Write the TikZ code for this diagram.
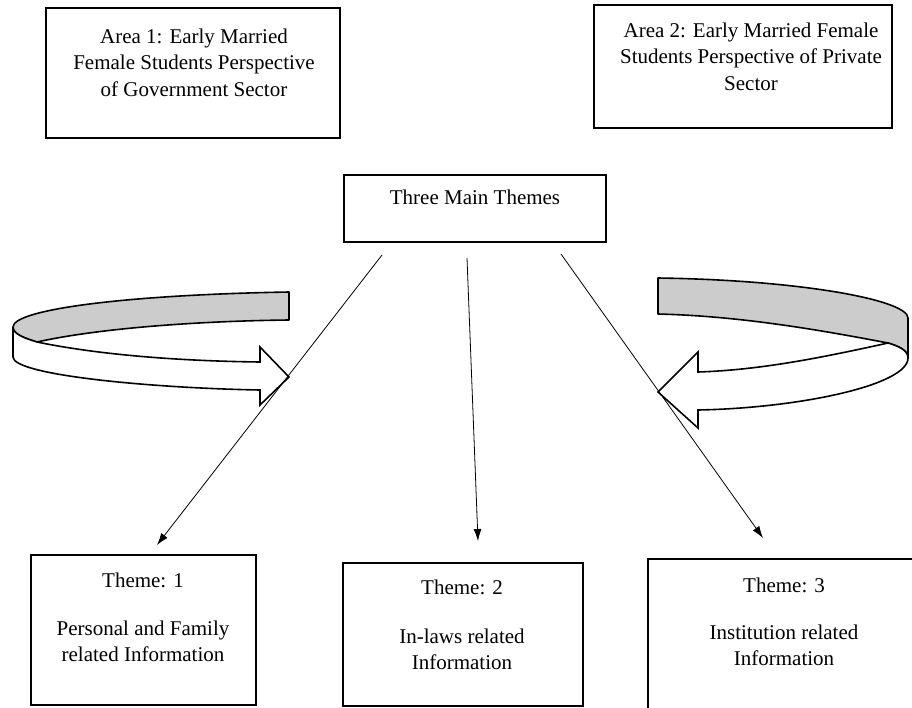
\documentclass[tikz,border=0pt]{standalone}
\usepackage{fontspec}
\setmainfont{Liberation Serif}
\usetikzlibrary{arrows.meta}
\tikzset{
  box/.style={draw=black, line width=1.8pt, inner sep=0pt, rectangle},
  txt/.style={inner sep=0pt, align=center, font=\fontsize{21}{26.5}\selectfont},
  conn/.style={line width=0.8pt, -{Latex[length=12pt,width=8pt]}},
  ribbonback/.style={fill=gray!40, draw=black, line width=1.6pt, line join=round},
  ribbonfront/.style={fill=white, draw=black, line width=1.6pt, line join=miter},
}
\begin{document}
\begin{tikzpicture}[x=1pt,y=-1pt]
\useasboundingbox (0,0) rectangle (912,707);
\clip (0,0) rectangle (912,707);

% boxes
\node[box, minimum width=294pt, minimum height=130pt] (area1) at (193,73) {};
\node[box, minimum width=298pt, minimum height=123pt] (area2) at (743,66.5) {};
\node[box, minimum width=262pt, minimum height=67pt] (main) at (475,208.5) {};
\node[box, minimum width=225pt, minimum height=150pt] (t1) at (143.5,630) {};
\node[box, minimum width=240pt, minimum height=143pt] (t2) at (463,634.5) {};
\node[box, minimum width=272pt, minimum height=161pt] (t3) at (784,639.5) {};

% texts
\node[txt] (a1txt) at (194,62.5) {Area 1: Early Married\\Female Students Perspective\\of Government Sector};
\node[txt] (a2txt) at (751,56.5) {Area 2: Early Married Female\\Students Perspective of Private\\Sector};
\node[txt] (maintxt) at (475,197) {Three Main Themes};
\node[txt] (t1a) at (143,580) {Theme: 1};
\node[txt] (t1b) at (143,641.5) {Personal and Family\\related Information};
\node[txt] (t2a) at (462,587) {Theme: 2};
\node[txt] (t2b) at (462,649.5) {In-laws related\\Information};
\node[txt] (t3a) at (784,585) {Theme: 3};
\node[txt] (t3b) at (784,645.5) {Institution related\\Information};

% left curved arrow
\path[ribbonback] (289,292) .. controls (120,295) and (13,310) .. (13,327)
  .. controls (13,334) and (24,338) .. (37,342)
  .. controls (100,328) and (200,321) .. (289,320) -- cycle;
\path[ribbonfront] (13,327) .. controls (13,334) and (24,338) .. (37,342)
  .. controls (100,355) and (180,361) .. (260,362)
  -- (260,347) -- (289,377) -- (260,405) -- (260,390)
  .. controls (150,388) and (13,375) .. (13,357) -- cycle;

% right curved arrow
\path[ribbonback] (658,278) .. controls (800,280) and (908,300) .. (908,318)
  -- (908,358) .. controls (908,350) and (898,346) .. (888,343)
  .. controls (820,330) and (740,316) .. (658,314) -- cycle;
\path[ribbonfront] (908,358) .. controls (908,350) and (898,346) .. (888,343)
  .. controls (820,358) and (760,370) .. (698,372)
  -- (698,352) -- (658,392) -- (698,428) -- (698,410)
  .. controls (800,408) and (908,385) .. (908,358) -- cycle;

% connectors
\coordinate (s1) at (382,255);
\coordinate (e1) at (157,545);
\coordinate (s2) at (467,258);
\coordinate (e2) at (478,541);
\coordinate (s3) at (561,254);
\coordinate (e3) at (763,538);
\draw[conn] (s1) -- (e1);
\draw[conn] (s2) -- (e2);
\draw[conn] (s3) -- (e3);
\end{tikzpicture}
\end{document}
